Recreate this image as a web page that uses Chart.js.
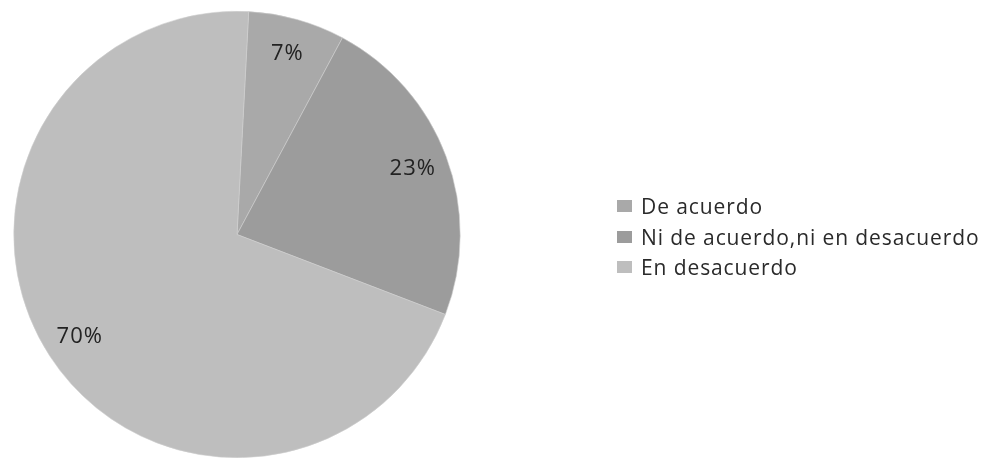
<!DOCTYPE html>
<html>
<head>
<meta charset="utf-8">
<script src="https://cdn.jsdelivr.net/npm/chart.js@4"></script>
<style>
  body { margin: 0; background: #fff; }
  #wrap { position: relative; width: 998px; height: 458px; }
  #legend { position: absolute; left: 617px; top: 191px; font-family: "Open Sans", sans-serif; font-size: 21px; letter-spacing: 0.9px; color: #2a2a2a; }
  #legend div { height: 30.5px; display: flex; align-items: center; }
  #legend span.box { display: inline-block; width: 15px; height: 12px; margin-right: 9px; }
</style>
</head>
<body>
<div id="wrap">
  <canvas id="myChart" width="998" height="458"></canvas>
  <div id="legend"></div>
</div>
<script>
// categories and values (percent)
const categories = ['De acuerdo', 'Ni de acuerdo,ni en desacuerdo', 'En desacuerdo'];
const values = [7, 23, 70];
const colors = ['#a9a9a9', '#9c9c9c', '#bebebe'];

const ctx = document.getElementById('myChart');

// percent labels placed near the outer part of each slice
const sliceLabels = {
  id: 'sliceLabels',
  afterDatasetsDraw(chart) {
    const c = chart.ctx;
    const meta = chart.getDatasetMeta(0);
    c.save();
    c.font = '22px "Open Sans", sans-serif';
    c.letterSpacing = '1px';
    c.fillStyle = '#222';
    c.textAlign = 'center';
    c.textBaseline = 'middle';
    meta.data.forEach((arc, i) => {
      const p = arc.getProps(['x', 'y', 'startAngle', 'endAngle', 'outerRadius'], true);
      const mid = (p.startAngle + p.endAngle) / 2;
      const r = p.outerRadius * 0.84;
      c.fillText(values[i] + '%', p.x + Math.cos(mid) * r, p.y + Math.sin(mid) * r);
    });
    c.restore();
  }
};

const chart = new Chart(ctx, {
  type: 'pie',
  data: {
    labels: categories,
    datasets: [{
      data: values,
      backgroundColor: colors,
      borderColor: '#cfcfcf',
      borderWidth: 0.6
    }]
  },
  options: {
    responsive: false,
    animation: false,
    rotation: 3,
    layout: { padding: { left: 13, right: 537, top: 11, bottom: 0 } },
    plugins: {
      legend: { display: false },
      tooltip: { enabled: false }
    }
  },
  plugins: [sliceLabels]
});

// html legend
const legendEl = document.getElementById('legend');
categories.forEach((name, i) => {
  const row = document.createElement('div');
  row.innerHTML = '<span class="box" style="background:' + colors[i] + '"></span>' + name;
  legendEl.appendChild(row);
});
</script>
</body>
</html>
